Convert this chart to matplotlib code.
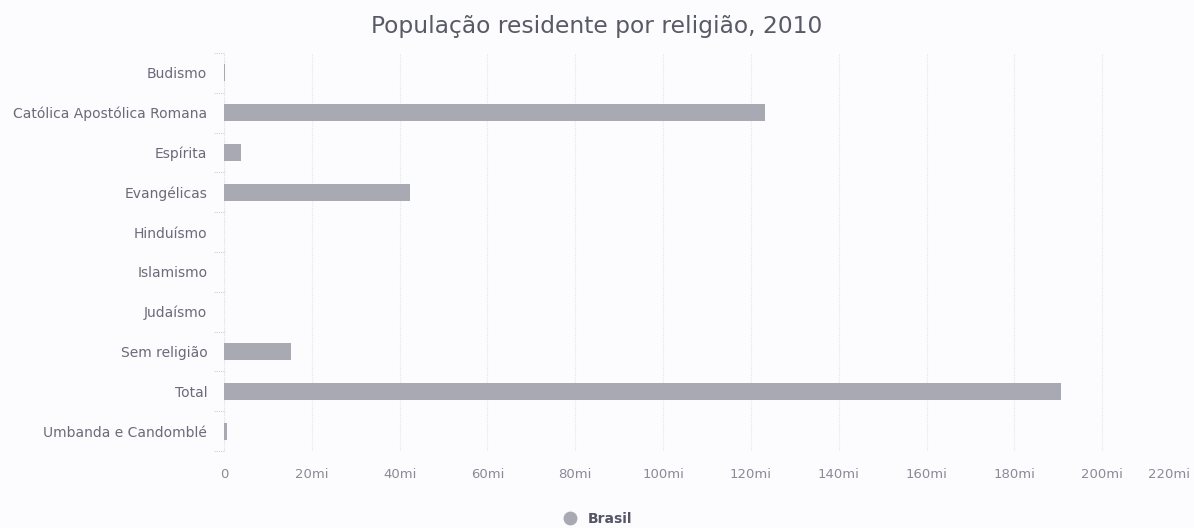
import matplotlib
matplotlib.use("Agg")
import matplotlib.pyplot as plt
from matplotlib.lines import Line2D

categories = ["Budismo", "Católica Apostólica Romana", "Espírita", "Evangélicas",
              "Hinduísmo", "Islamismo", "Judaísmo", "Sem religião", "Total",
              "Umbanda e Candomblé"]
values_mi = [0.24, 123.3, 3.85, 42.3, 0.005, 0.035, 0.107, 15.3, 190.7, 0.59]
xticks = [0, 20, 40, 60, 80, 100, 120, 140, 160, 180, 200, 220]
xticklabels = ["0"] + [f"{t}mi" for t in xticks[1:]]
series_name = "Brasil"
title = "População residente por religião, 2010"

W, H = 1194, 528
fig = plt.figure(figsize=(W / 100, H / 100), dpi=100)
fig.patch.set_facecolor("#fcfcfe")
ax = fig.add_axes([224 / W, 1 - 451 / H, (1190 - 224) / W, (451 - 53) / H])
ax.set_facecolor("#fcfcfe")

ypos = list(range(len(categories)))
ax.barh(ypos, values_mi, height=0.43, color="#a9a9b4", edgecolor="none", zorder=3)
ax.set_ylim(len(categories) - 0.5, -0.5)
ax.set_xlim(0, 220)
ax.set_yticks(ypos)
ax.set_yticklabels(categories, fontsize=10, color="#6a6a7a")
ax.set_xticks(xticks)
ax.set_xticklabels(xticklabels, fontsize=9.5, color="#8a8a98")
labs = ax.get_xticklabels()
labs[-1].set_horizontalalignment("right")
ax.tick_params(axis="y", length=0, pad=12)
ax.tick_params(axis="x", length=0, pad=12)
ax.grid(axis="x", color="#e6e6ea", linewidth=0.8, linestyle=(0, (1, 1)), zorder=0)
for s in ax.spines.values():
    s.set_visible(False)
# category separators (short dotted ticks at left)
for i in range(len(categories) + 1):
    ax.plot([-2.2, 0], [i - 0.5, i - 0.5], color="#cfcfd6", linewidth=0.8,
            linestyle=(0, (1, 1)), clip_on=False)
ax.axvline(0, color="#e3e3e8", linewidth=0.8, linestyle=(0, (1, 1)), zorder=1)

fig.text(597 / W, 1 - 27 / H, title, ha="center", va="center", fontsize=16.8,
         color="#5a5a66")

handle = Line2D([], [], marker="o", linestyle="none", markersize=9,
                markerfacecolor="#a9a9b4", markeredgecolor="#a9a9b4")
fig.legend([handle], [series_name], loc="center", bbox_to_anchor=(594 / W, 1 - 519 / H),
           frameon=False, prop={"weight": "bold", "size": 10}, labelcolor="#555566",
           handletextpad=0.3)

fig.savefig("out.png", dpi=100, facecolor=fig.get_facecolor())
